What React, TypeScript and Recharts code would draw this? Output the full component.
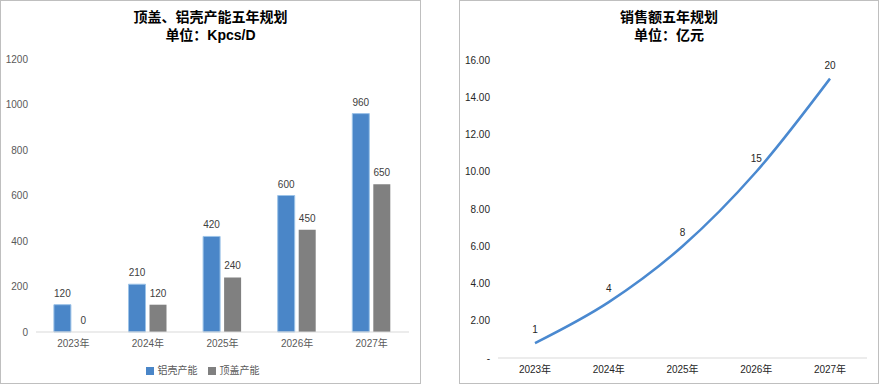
import React from 'react';
import {
  BarChart, Bar, XAxis, YAxis, Legend, LabelList, LineChart, Line,
} from 'recharts';

const years = ['2023年', '2024年', '2025年', '2026年', '2027年'];
const aluminumCapacity = [120, 210, 420, 600, 960];
const capCapacity = [0, 120, 240, 450, 650];
const capacityTicks = [0, 200, 400, 600, 800, 1000, 1200];

const salesValues = [0.8, 3, 6, 10, 15];
const salesLabels = ['1', '4', '8', '15', '20'];
const salesTicks = [0, 2, 4, 6, 8, 10, 12, 14, 16];

const barData = years.map((y, i) => ({ year: y, alu: aluminumCapacity[i], cap: capCapacity[i] }));
const lineData = years.map((y, i) => ({ year: y, sales: salesValues[i], label: salesLabels[i] }));

const FONT = '"Liberation Sans", Arial, "Noto Sans CJK SC", sans-serif';
const BLUE = '#4A86C8';
const GRAY = '#808080';

const panelStyle: React.CSSProperties = {
  position: 'absolute', top: 0, height: 384, boxSizing: 'border-box',
  border: '1px solid #BFBFBF', background: '#fff', fontFamily: FONT,
};
const titleStyle: React.CSSProperties = {
  position: 'absolute', left: 0, right: 0, top: 7, textAlign: 'center',
  fontFamily: FONT, fontWeight: 'bold', fontSize: 14, lineHeight: '18px', color: '#000', zIndex: 2,
};

const BarValueLabel = (props: any) => {
  const { x, y, width, height, value } = props;
  const top = Math.min(Number(y), Number(y) + Number(height));
  return (
    <text x={Number(x) + Number(width) / 2} y={top - 8} textAnchor="middle"
      fill="#404040" fontSize={10} fontFamily={FONT}>{String(value)}</text>
  );
};

const tinyForZero = (v: any) => (Number(v) === 0 ? 0.01 : 0);

export default function App() {
  return (
    <div style={{ position: 'absolute', left: 0, top: 0, width: 879, height: 384, background: '#fff' }}>
      <div style={{ ...panelStyle, left: 0, width: 421 }}>
        <div style={titleStyle}>顶盖、铝壳产能五年规划<br />单位：Kpcs/D</div>
        <div style={{ position: 'absolute', left: -1, top: -1 }}>
          <BarChart width={421} height={384} data={barData}
            margin={{ top: 59, right: 12, bottom: 7, left: 6 }}
            barCategoryGap="24%" barGap={4}>
            <XAxis dataKey="year" axisLine={{ stroke: '#D9D9D9' }} tickLine={false}
              tick={{ fill: '#595959', fontSize: 10, fontFamily: FONT }} height={30} />
            <YAxis width={30} domain={[0, 1200]} ticks={capacityTicks} axisLine={false} tickLine={false}
              tick={{ fill: '#595959', fontSize: 10, fontFamily: FONT }} />
            <Legend verticalAlign="bottom" align="center" iconType="square" iconSize={8}
              wrapperStyle={{ fontSize: 10, fontFamily: FONT }}
              formatter={(v) => <span style={{ color: '#595959' }}>{v}</span>} />
            <Bar dataKey="alu" name="铝壳产能" fill={BLUE} stroke="#9CC3E8" strokeWidth={1} isAnimationActive={false}>
              <LabelList dataKey="alu" content={BarValueLabel} />
            </Bar>
            <Bar dataKey="cap" name="顶盖产能" fill={GRAY} minPointSize={tinyForZero} isAnimationActive={false}>
              <LabelList dataKey="cap" content={BarValueLabel} />
            </Bar>
          </BarChart>
        </div>
      </div>

      <div style={{ ...panelStyle, left: 459, width: 420 }}>
        <div style={titleStyle}>销售额五年规划<br />单位：亿元</div>
        <div style={{ position: 'absolute', left: -1, top: -1 }}>
          <LineChart width={420} height={384} data={lineData}
            margin={{ top: 60, right: 12, bottom: 6, left: 6 }}>
            <XAxis dataKey="year" axisLine={{ stroke: '#D9D9D9' }} tickLine={false}
              padding={{ left: 37, right: 37 }}
              tick={{ fill: '#262626', fontSize: 10, fontFamily: FONT }} height={20} />
            <YAxis width={33} domain={[0, 16]} ticks={salesTicks} axisLine={false} tickLine={false}
              tickFormatter={(v: number) => (v === 0 ? '-' : v.toFixed(2))}
              tick={{ fill: '#262626', fontSize: 10, fontFamily: FONT }} />
            <Line type="monotone" dataKey="sales" stroke="#4A89D0" strokeWidth={2.5} dot={false}
              isAnimationActive={false}>
              <LabelList dataKey="label" position="top" offset={10} fill="#262626" fontSize={10} fontFamily={FONT} />
            </Line>
          </LineChart>
        </div>
      </div>
    </div>
  );
}
